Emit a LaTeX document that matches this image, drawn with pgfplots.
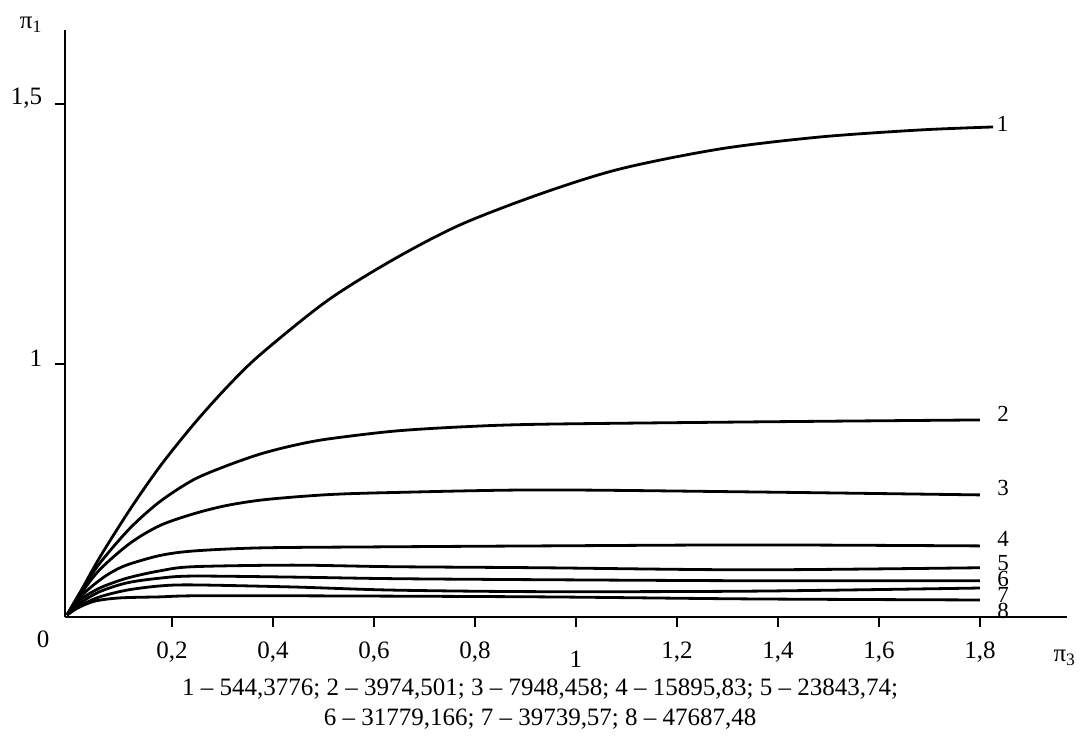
\documentclass[border=0pt]{standalone}
\usepackage{fontspec}
\setmainfont{Liberation Serif}
\usepackage{pgfplots}
\pgfplotsset{compat=1.18}

\begin{document}
\fontsize{12.5}{15}\selectfont
\begin{tikzpicture}
\pgfplotsset{crv/.style={black, solid, line width=1.4pt, smooth, tension=0.5, mark=none}}
\begin{axis}[
  scale only axis,
  width=501pt, height=293.4pt,
  xmin=-0.012, xmax=1.972,
  ymin=0.5135, ymax=1.642,
  separate axis lines,
  axis x line*=bottom,
  axis y line*=left,
  axis line style={-, line width=0.8pt},
  xtick pos=bottom, ytick pos=left,
  tick align=outside,
  major tick length=5pt,
  every tick/.style={black, line width=0.9pt},
  xtick={0.2,0.4,0.6,0.8,1.2,1.4,1.6,1.8},
  xticklabels={0{,}2,0{,}4,0{,}6,0{,}8,1{,}2,1{,}4,1{,}6,1{,}8},
  extra x ticks={1},
  extra x tick labels={1},
  extra x tick style={tick label style={yshift=-4.5pt}},
  ytick={1,1.5},
  yticklabels={1,1{,}5},
  x tick label style={yshift=-3pt},
  y tick label style={xshift=-2pt, yshift=3pt},
  clip=false,
]
% curve 1
\addplot[crv] coordinates {(-0.008,0.517) (0.018,0.5604) (0.057,0.6281) (0.117,0.7204) (0.176,0.8027) (0.242,0.8829) (0.307,0.9535) (0.374,1.0173) (0.507,1.1213) (0.638,1.2006) (0.770,1.2673) (0.929,1.3269) (1.087,1.3750) (1.285,1.4135) (1.483,1.4365) (1.681,1.4500) (1.826,1.4558)};
% curve 2
\addplot[crv] coordinates {(-0.008,0.517) (0.018,0.5602) (0.057,0.6167) (0.117,0.6842) (0.176,0.7352) (0.242,0.7769) (0.307,0.8037) (0.374,0.8265) (0.440,0.8431) (0.507,0.8554) (0.638,0.8706) (0.770,0.8788) (0.929,0.8840) (1.350,0.8885) (1.800,0.8923)};
% curve 3
\addplot[crv] coordinates {(-0.008,0.517) (0.018,0.5558) (0.057,0.6044) (0.117,0.6552) (0.176,0.6892) (0.242,0.7115) (0.307,0.7275) (0.384,0.7390) (0.507,0.7485) (0.638,0.7527) (0.929,0.7577) (1.350,0.7538) (1.800,0.7481)};
% curve 4
\addplot[crv] coordinates {(-0.008,0.517) (0.018,0.5513) (0.048,0.5775) (0.077,0.5975) (0.111,0.6135) (0.176,0.6315) (0.242,0.6402) (0.374,0.6462) (0.600,0.6481) (0.929,0.6500) (1.350,0.6519) (1.800,0.6500)};
% curve 5
\addplot[crv] coordinates {(-0.008,0.517) (0.018,0.546) (0.057,0.569) (0.111,0.588) (0.176,0.602) (0.242,0.610) (0.440,0.613) (0.638,0.610) (0.929,0.608) (1.350,0.604) (1.800,0.608)};
% curve 6
\addplot[crv] coordinates {(-0.008,0.517) (0.018,0.540) (0.057,0.562) (0.111,0.579) (0.176,0.588) (0.242,0.592) (0.440,0.590) (0.638,0.587) (0.929,0.585) (1.350,0.583) (1.800,0.583)};
% curve 7
\addplot[crv] coordinates {(-0.008,0.517) (0.018,0.535) (0.057,0.552) (0.111,0.565) (0.176,0.573) (0.242,0.575) (0.440,0.571) (0.638,0.565) (0.929,0.562) (1.350,0.563) (1.800,0.569)};
% curve 8
\addplot[crv] coordinates {(-0.008,0.517) (0.014,0.531) (0.048,0.544) (0.097,0.550) (0.176,0.552) (0.242,0.554) (0.453,0.554) (0.929,0.552) (1.350,0.548) (1.800,0.546)};

% curve numbers
\begin{scope}[every node/.style={inner sep=0pt, font=\fontsize{11.5}{13}\selectfont}]
\node at (axis cs:1.845,1.462) {1};
\node at (axis cs:1.846,0.904) {2};
\node at (axis cs:1.846,0.762) {3};
\node at (axis cs:1.846,0.664) {4};
\node at (axis cs:1.846,0.617) {5};
\node at (axis cs:1.846,0.587) {6};
\node at (axis cs:1.846,0.556) {7};
\node at (axis cs:1.846,0.525) {8};
\end{scope}

% axis names and corner zero
\node at (axis cs:-0.079,1.652) {π\textsubscript{1}};
\node at (axis cs:1.968,0.435) {π\textsubscript{3}};
\node at (axis cs:-0.055,0.471) {0};

% parameter list
\node[align=center] at (axis cs:0.929,0.346)
  {1 -- 544,3776; 2 -- 3974,501; 3 -- 7948,458; 4 -- 15895,83; 5 -- 23843,74;\\
   6 -- 31779,166; 7 -- 39739,57; 8 -- 47687,48};

\path (axis cs:-0.1406,0.2827) rectangle (axis cs:2.008,1.700);
\end{axis}
\end{tikzpicture}
\end{document}
